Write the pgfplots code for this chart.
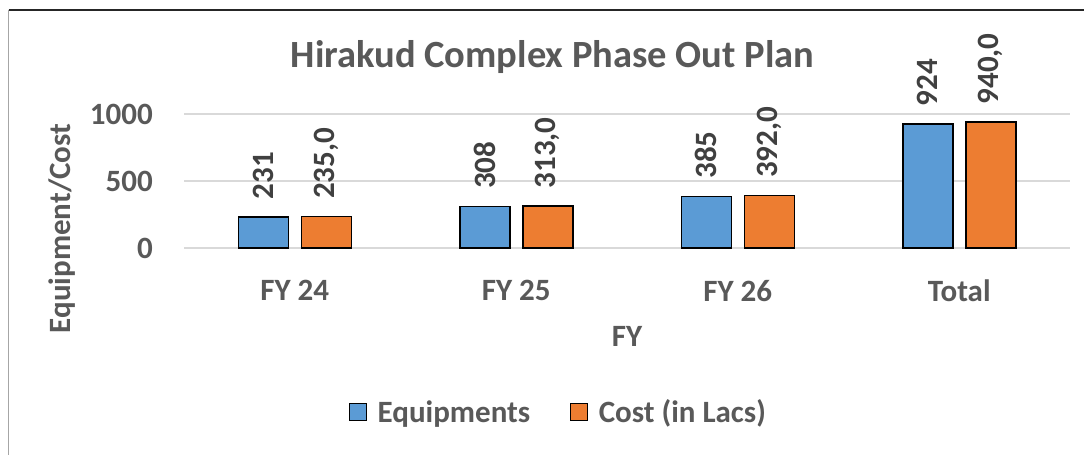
\documentclass[border=0pt]{standalone}
\usepackage{pgfplots}
\pgfplotsset{compat=1.18}
\usepackage{pgfplotstable}
\usepackage{fontspec}
\setmainfont{Carlito}
\definecolor{xblue}{HTML}{5B9BD5}
\definecolor{xorange}{HTML}{ED7D31}
\definecolor{xgrid}{HTML}{D9D9D9}
\definecolor{xtext}{HTML}{595959}
\definecolor{xlab}{HTML}{404040}
\pgfplotstableread{
x y lab
0 231 231
1 308 308
2 385 385
3 924 924
}\equip
\pgfplotstableread{
x y lab
0 235 235,0
1 313 313,0
2 392 392,0
3 940 940,0
}\cost
\begin{document}
\begin{tikzpicture}[x=1bp,y=1bp]
\path[use as bounding box, fill=white] (0bp,0bp) rectangle (1084bp,455bp);
\draw[line width=1.2bp, color=black!85] (8.5bp,445bp) -- (1084bp,445bp);
\draw[line width=1.2bp, color=black!35] (8.5bp,445bp) -- (8.5bp,0bp);
\begin{axis}[
  at={(184bp,207bp)}, anchor=south west,
  scale only axis, width=886bp, height=134bp,
  xmin=-0.5, xmax=3.5, ymin=0, ymax=1000,
  clip=false,
  axis line style={draw=none},
  major tick length=0pt,
  ytick={0,500,1000},
  xtick={0,1,2,3},
  xticklabels={FY 24,FY 25,FY 26,Total},
  ymajorgrids,
  major grid style={draw=xgrid, line width=1.5bp},
  /pgf/number format/assume math mode=true,
  /pgf/number format/1000 sep={},
  yticklabel style={font=\fontsize{31bp}{37bp}\selectfont\bfseries, text=xtext, anchor=east, inner sep=0pt, xshift=-31bp},
  xticklabel style={font=\fontsize{31bp}{37bp}\selectfont\bfseries, text=xtext, anchor=north, inner sep=0pt, yshift=-32bp},
  ybar, 
  bar width=50bp,
  nodes near coords,
  point meta=explicit symbolic,
  nodes near coords style={font=\fontsize{31bp}{37bp}\selectfont\bfseries, text=xlab, rotate=90, anchor=west, inner sep=0pt, xshift=17bp},
  legend style={at={(rel axis cs:0.4227,-1.224)}, anchor=center, draw=none, fill=none,
    font=\fontsize{31bp}{37bp}\selectfont\bfseries, text=xtext,
    legend columns=2, /tikz/every even column/.append style={column sep=38bp},
    legend cell align=left, inner sep=0pt},
  legend image code/.code={\draw[#1, line width=1.2bp] (0bp,-8.5bp) rectangle (17bp,8.5bp); \path[draw=none, fill=none] (0bp,0bp) -- (26bp,0bp);},
]
\addplot[fill=xblue, draw=black, line width=1.5bp, bar shift=-31.5bp] table[x=x, y=y, meta=lab] {\equip};
\addplot[fill=xorange, draw=black, line width=1.5bp, bar shift=31.5bp] table[x=x, y=y, meta=lab] {\cost};
\legend{Equipments, Cost (in Lacs)}
\end{axis}
\node[anchor=base, font=\fontsize{38.5bp}{45bp}\selectfont\bfseries, text=xtext, inner sep=0pt] at (552.5bp,387bp) {Hirakud Complex Phase Out Plan};
\node[anchor=base, rotate=90, font=\fontsize{31bp}{37bp}\selectfont\bfseries, text=xtext, inner sep=0pt] at (70bp,226.5bp) {Equipment/Cost};
\node[anchor=base, font=\fontsize{31bp}{37bp}\selectfont\bfseries, text=xtext, inner sep=0pt] at (627bp,108bp) {FY};
\end{tikzpicture}
\end{document}
